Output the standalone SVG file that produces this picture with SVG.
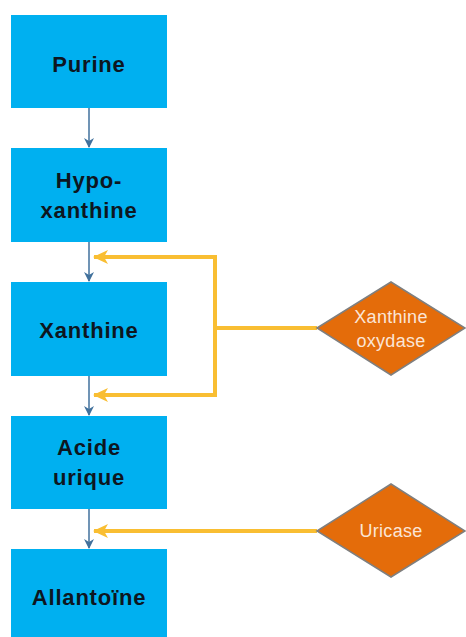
<svg xmlns="http://www.w3.org/2000/svg" width="466" height="637" viewBox="0 0 466 637">
<defs>
<marker id="ab" markerWidth="10" markerHeight="10" refX="9" refY="5" orient="auto" markerUnits="userSpaceOnUse"><path d="M0,0 L10,5 L0,10 L3,5 Z" fill="#41719C"/></marker>
<marker id="ay" markerWidth="16" markerHeight="16" refX="14" refY="8" orient="auto" markerUnits="userSpaceOnUse"><path d="M0,1 L15,8 L0,15 L4,8 Z" fill="#F9BE32"/></marker>
</defs>
<style>
.box{fill:#00B0F0}
.lbl{font-family:"Liberation Sans",Arial,sans-serif;font-weight:bold;font-size:22px;letter-spacing:0.8px;fill:#0D1620;text-anchor:middle}
.dia{fill:#E46C0A;stroke:#7F7F7F;stroke-width:1.5}
.dl{font-family:"Liberation Sans",Arial,sans-serif;font-size:18px;letter-spacing:0.3px;fill:#FBE5D6;text-anchor:middle}
.bl{stroke:#41719C;stroke-width:1.5;fill:none}
.yl{stroke:#F9BE32;stroke-width:4;fill:none}
</style>
<g id="connectors">
<line class="bl" x1="89" y1="108" x2="89" y2="147" marker-end="url(#ab)"/>
<line class="bl" x1="89" y1="242" x2="89" y2="281" marker-end="url(#ab)"/>
<line class="bl" x1="89" y1="376" x2="89" y2="415" marker-end="url(#ab)"/>
<line class="bl" x1="89" y1="509" x2="89" y2="548" marker-end="url(#ab)"/>
<polyline class="yl" points="215,328 215,257 94,257" marker-end="url(#ay)"/>
<polyline class="yl" points="215,328 215,395 94,395" marker-end="url(#ay)"/>
<line class="yl" x1="317" y1="328" x2="213" y2="328"/>
<line class="yl" x1="317" y1="531" x2="94" y2="531" marker-end="url(#ay)"/>
</g>
<g id="purine"><rect class="box" x="11" y="15" width="156" height="93"/><text class="lbl" x="89" y="72">Purine</text></g>
<g id="hypoxanthine"><rect class="box" x="11" y="148" width="156" height="94"/><text class="lbl" x="89" y="188">Hypo-</text><text class="lbl" x="89" y="218">xanthine</text></g>
<g id="xanthine"><rect class="box" x="11" y="282" width="156" height="94"/><text class="lbl" x="89" y="338">Xanthine</text></g>
<g id="acide-urique"><rect class="box" x="11" y="416" width="156" height="93"/><text class="lbl" x="89" y="455">Acide</text><text class="lbl" x="89" y="485">urique</text></g>
<g id="allantoine"><rect class="box" x="11" y="549" width="156" height="100"/><text class="lbl" x="89" y="605">Allantoïne</text></g>
<g id="xanthine-oxydase"><polygon class="dia" points="317,328 391,282 465,328 391,375"/><text class="dl" x="391" y="323">Xanthine</text><text class="dl" x="391" y="347">oxydase</text></g>
<g id="uricase"><polygon class="dia" points="317,531 391,484 465,531 391,577"/><text class="dl" x="391" y="537">Uricase</text></g>
</svg>
